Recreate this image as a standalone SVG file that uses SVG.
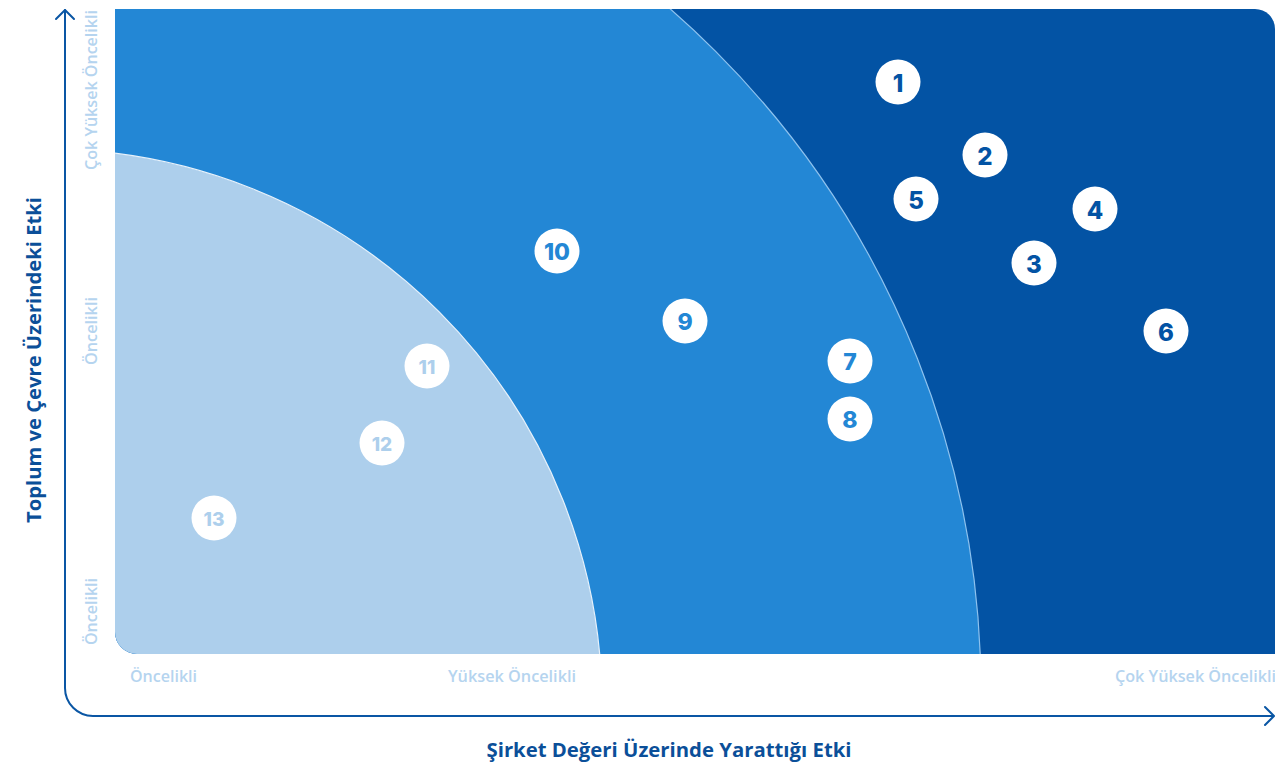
<svg xmlns="http://www.w3.org/2000/svg" width="1275" height="773" viewBox="0 0 1275 773">
<style>
.axis{fill:none;stroke:#0A56A4;stroke-width:2;stroke-linecap:round;stroke-linejoin:round}
.title{font-family:"Open Sans","Liberation Sans",sans-serif;font-weight:700;font-size:20px;fill:#0B4F99}
.tick{font-family:"Open Sans","Liberation Sans",sans-serif;font-weight:600;font-size:16px;fill:#B5D4EF}
.dot{fill:#ffffff}
.num{font-family:Inter,"Liberation Sans",sans-serif;font-weight:800;text-anchor:middle;dominant-baseline:central}
.n1{font-size:24px;fill:#0353A4}
.n2{font-size:23px;fill:#2387D5}
.n3{font-size:19px;fill:#ADCFEC}
</style>
<defs>
<clipPath id="chartClip">
<path d="M115,9 H1255 A20,20 0 0 1 1275,29 V654 H137 A22,22 0 0 1 115,632 Z"/>
</clipPath>
</defs>
<g id="chart" clip-path="url(#chartClip)">
<rect x="115" y="9" width="1160" height="645" fill="#0353A4"/>
<circle cx="75" cy="692" r="906" fill="#2387D5" stroke="#8EC2EE" stroke-width="1.2"/>
<circle cx="46" cy="705" r="556" fill="#ADCFEC" stroke="#E6F1FB" stroke-width="1.2"/>
</g>
<g id="axes">
<path class="axis" d="M65,10 V688 A28,28 0 0 0 93,716 H1273"/>
<path class="axis" d="M56,19 L65,10 L74,19"/>
<path class="axis" d="M1265,707 L1274,716 L1265,725"/>
</g>
<g id="labels">
<text class="title" transform="translate(41,360) rotate(-90)" text-anchor="middle" textLength="326" lengthAdjust="spacingAndGlyphs">Toplum ve Çevre Üzerindeki Etki</text>
<text class="title" x="669" y="757" text-anchor="middle" textLength="365" lengthAdjust="spacingAndGlyphs">Şirket Değeri Üzerinde Yarattığı Etki</text>
<text class="tick" x="130" y="682" textLength="67" lengthAdjust="spacingAndGlyphs">Öncelikli</text>
<text class="tick" x="448" y="682" textLength="128" lengthAdjust="spacingAndGlyphs">Yüksek Öncelikli</text>
<text class="tick" x="1115" y="682" textLength="161" lengthAdjust="spacingAndGlyphs">Çok Yüksek Öncelikli</text>
<text class="tick" transform="translate(97,170) rotate(-90)" textLength="160" lengthAdjust="spacingAndGlyphs">Çok Yüksek Öncelikli</text>
<text class="tick" transform="translate(97,365) rotate(-90)" textLength="68" lengthAdjust="spacingAndGlyphs">Öncelikli</text>
<text class="tick" transform="translate(97,645) rotate(-90)" textLength="67" lengthAdjust="spacingAndGlyphs">Öncelikli</text>
</g>
<g id="node-1"><circle class="dot" cx="898" cy="82" r="22.5"/><text class="num n1" x="898" y="83">1</text></g>
<g id="node-2"><circle class="dot" cx="985" cy="155" r="22.5"/><text class="num n1" x="985" y="156">2</text></g>
<g id="node-3"><circle class="dot" cx="1034" cy="263" r="22.5"/><text class="num n1" x="1034" y="264">3</text></g>
<g id="node-4"><circle class="dot" cx="1095" cy="209" r="22.5"/><text class="num n1" x="1095" y="210">4</text></g>
<g id="node-5"><circle class="dot" cx="916" cy="199" r="22.5"/><text class="num n1" x="916" y="200">5</text></g>
<g id="node-6"><circle class="dot" cx="1166" cy="331" r="22.5"/><text class="num n1" x="1166" y="332">6</text></g>
<g id="node-7"><circle class="dot" cx="850" cy="361" r="22.5"/><text class="num n2" x="850" y="362">7</text></g>
<g id="node-8"><circle class="dot" cx="850" cy="419" r="22.5"/><text class="num n2" x="850" y="420">8</text></g>
<g id="node-9"><circle class="dot" cx="685" cy="321" r="22.5"/><text class="num n2" x="685" y="322">9</text></g>
<g id="node-10"><circle class="dot" cx="557" cy="251" r="22.5"/><text class="num n2" x="557" y="252" font-size="20">10</text></g>
<g id="node-11"><circle class="dot" cx="427" cy="366" r="22.5"/><text class="num n3" x="427" y="367">11</text></g>
<g id="node-12"><circle class="dot" cx="382" cy="443" r="22.5"/><text class="num n3" x="382" y="444">12</text></g>
<g id="node-13"><circle class="dot" cx="214" cy="518" r="22.5"/><text class="num n3" x="214" y="519">13</text></g>
</svg>
